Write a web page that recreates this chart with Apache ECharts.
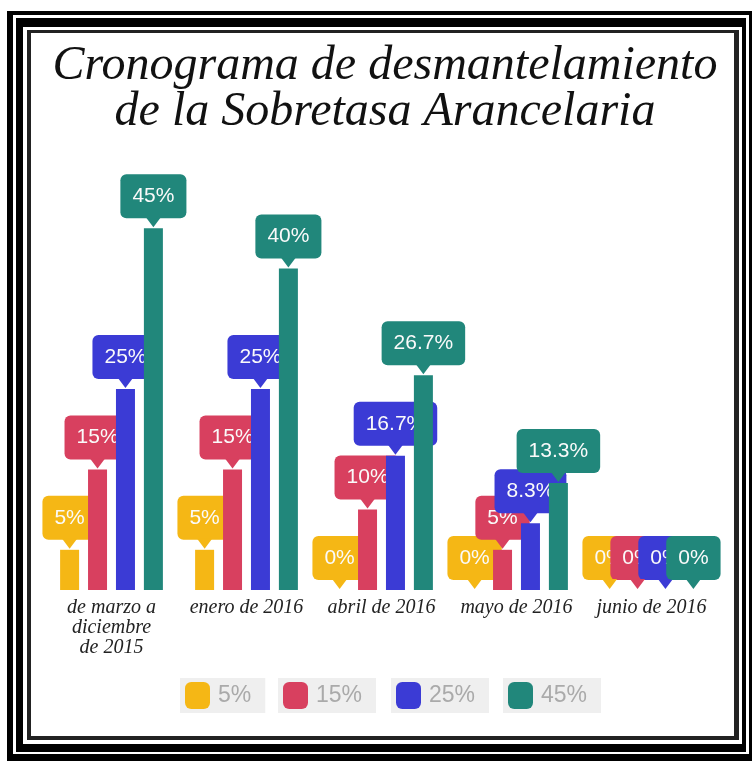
<!DOCTYPE html>
<html>
<head>
<meta charset="utf-8">
<script src="https://cdn.jsdelivr.net/npm/echarts@6/dist/echarts.min.js"></script>
<style>
html,body{margin:0;padding:0;background:#fff;}
#chart{width:752px;height:761px;}
</style>
</head>
<body>
<div id="chart"></div>
<script>
// ---- data ----
const titleText = 'Cronograma de desmantelamiento\nde la Sobretasa Arancelaria';
const categories = ['de marzo a\ndiciembre\nde 2015', 'enero de 2016', 'abril de 2016', 'mayo de 2016', 'junio de 2016'];
const seriesNames = ['5%', '15%', '25%', '45%'];
const values5 = [5, 5, 0, 0, 0];
const values15 = [15, 15, 10, 5, 0];
const values25 = [25, 25, 16.7, 8.3, 0];
const values45 = [45, 40, 26.7, 13.3, 0];
const seriesValues = [values5, values15, values25, values45];
const colors = ['#f5b715', '#d8405f', '#3b3bd5', '#21877b'];
const legendLefts = [180, 278, 391, 503];

const chart = echarts.init(document.getElementById('chart'), null, {renderer: 'canvas'});

const series = seriesNames.map((name, i) => ({
  name: name,
  type: 'bar',
  data: seriesValues[i],
  barWidth: 19,
  barGap: '47%',
  itemStyle: {color: colors[i]},
  z: 2 + i,
  label: {
    show: true,
    position: 'top',
    distance: 10,
    formatter: p => p.value + '%',
    backgroundColor: colors[i],
    borderRadius: 6,
    padding: [11, 12, 11, 12],
    color: '#fafafa',
    fontSize: 21,
    lineHeight: 22,
    fontFamily: 'Liberation Sans'
  },
  markPoint: {
    symbol: 'triangle',
    symbolRotate: 180,
    symbolSize: [15, 10],
    symbolOffset: [0, -6],
    silent: true,
    label: {show: false},
    itemStyle: {color: colors[i]},
    data: seriesValues[i].map((v, j) => ({coord: [j, v]}))
  }
}));

const legends = seriesNames.map((name, i) => ({
  data: [name],
  left: legendLefts[i],
  top: 678,
  backgroundColor: '#efefef',
  padding: [4, 14, 4, 5],
  itemWidth: 25,
  itemHeight: 27,
  icon: 'roundRect',
  selectedMode: false,
  textStyle: {fontSize: 23, color: '#aaaaaa', fontFamily: 'Liberation Sans', padding: [0, 0, 0, 3]}
}));

const frame = [
  {x: 7, y: 11, w: 745, h: 750, c: '#000'},
  {x: 13, y: 15, w: 736, h: 739, c: '#fff'},
  {x: 16, y: 18, w: 730, h: 734, c: '#000'},
  {x: 23, y: 27, w: 719, h: 717, c: '#fff'},
  {x: 27, y: 30, w: 712, h: 710, c: '#222'},
  {x: 31, y: 33, w: 703, h: 703, c: '#fff'}
];

chart.setOption({
  backgroundColor: '#fff',
  animation: false,
  graphic: frame.map(f => ({
    type: 'rect', z: -10, silent: true,
    shape: {x: f.x, y: f.y, width: f.w, height: f.h},
    style: {fill: f.c}
  })),
  title: {
    text: titleText,
    left: 380,
    textAlign: 'center',
    top: 38,
    textStyle: {
      fontFamily: 'Liberation Serif',
      fontStyle: 'italic',
      fontWeight: 'normal',
      fontSize: 48,
      lineHeight: 46,
      color: '#111'
    }
  },
  legend: legends,
  grid: {left: 44, right: 33, top: 188, bottom: 171},
  xAxis: {
    type: 'category',
    data: categories,
    axisLine: {show: false},
    axisTick: {show: false},
    axisLabel: {
      margin: 8,
      fontFamily: 'Liberation Serif',
      fontStyle: 'italic',
      fontSize: 20,
      lineHeight: 20,
      color: '#222',
      interval: 0
    }
  },
  yAxis: {
    type: 'value',
    min: 0, max: 50,
    show: false,
    splitLine: {show: false}
  },
  series: series
});
</script>
</body>
</html>
